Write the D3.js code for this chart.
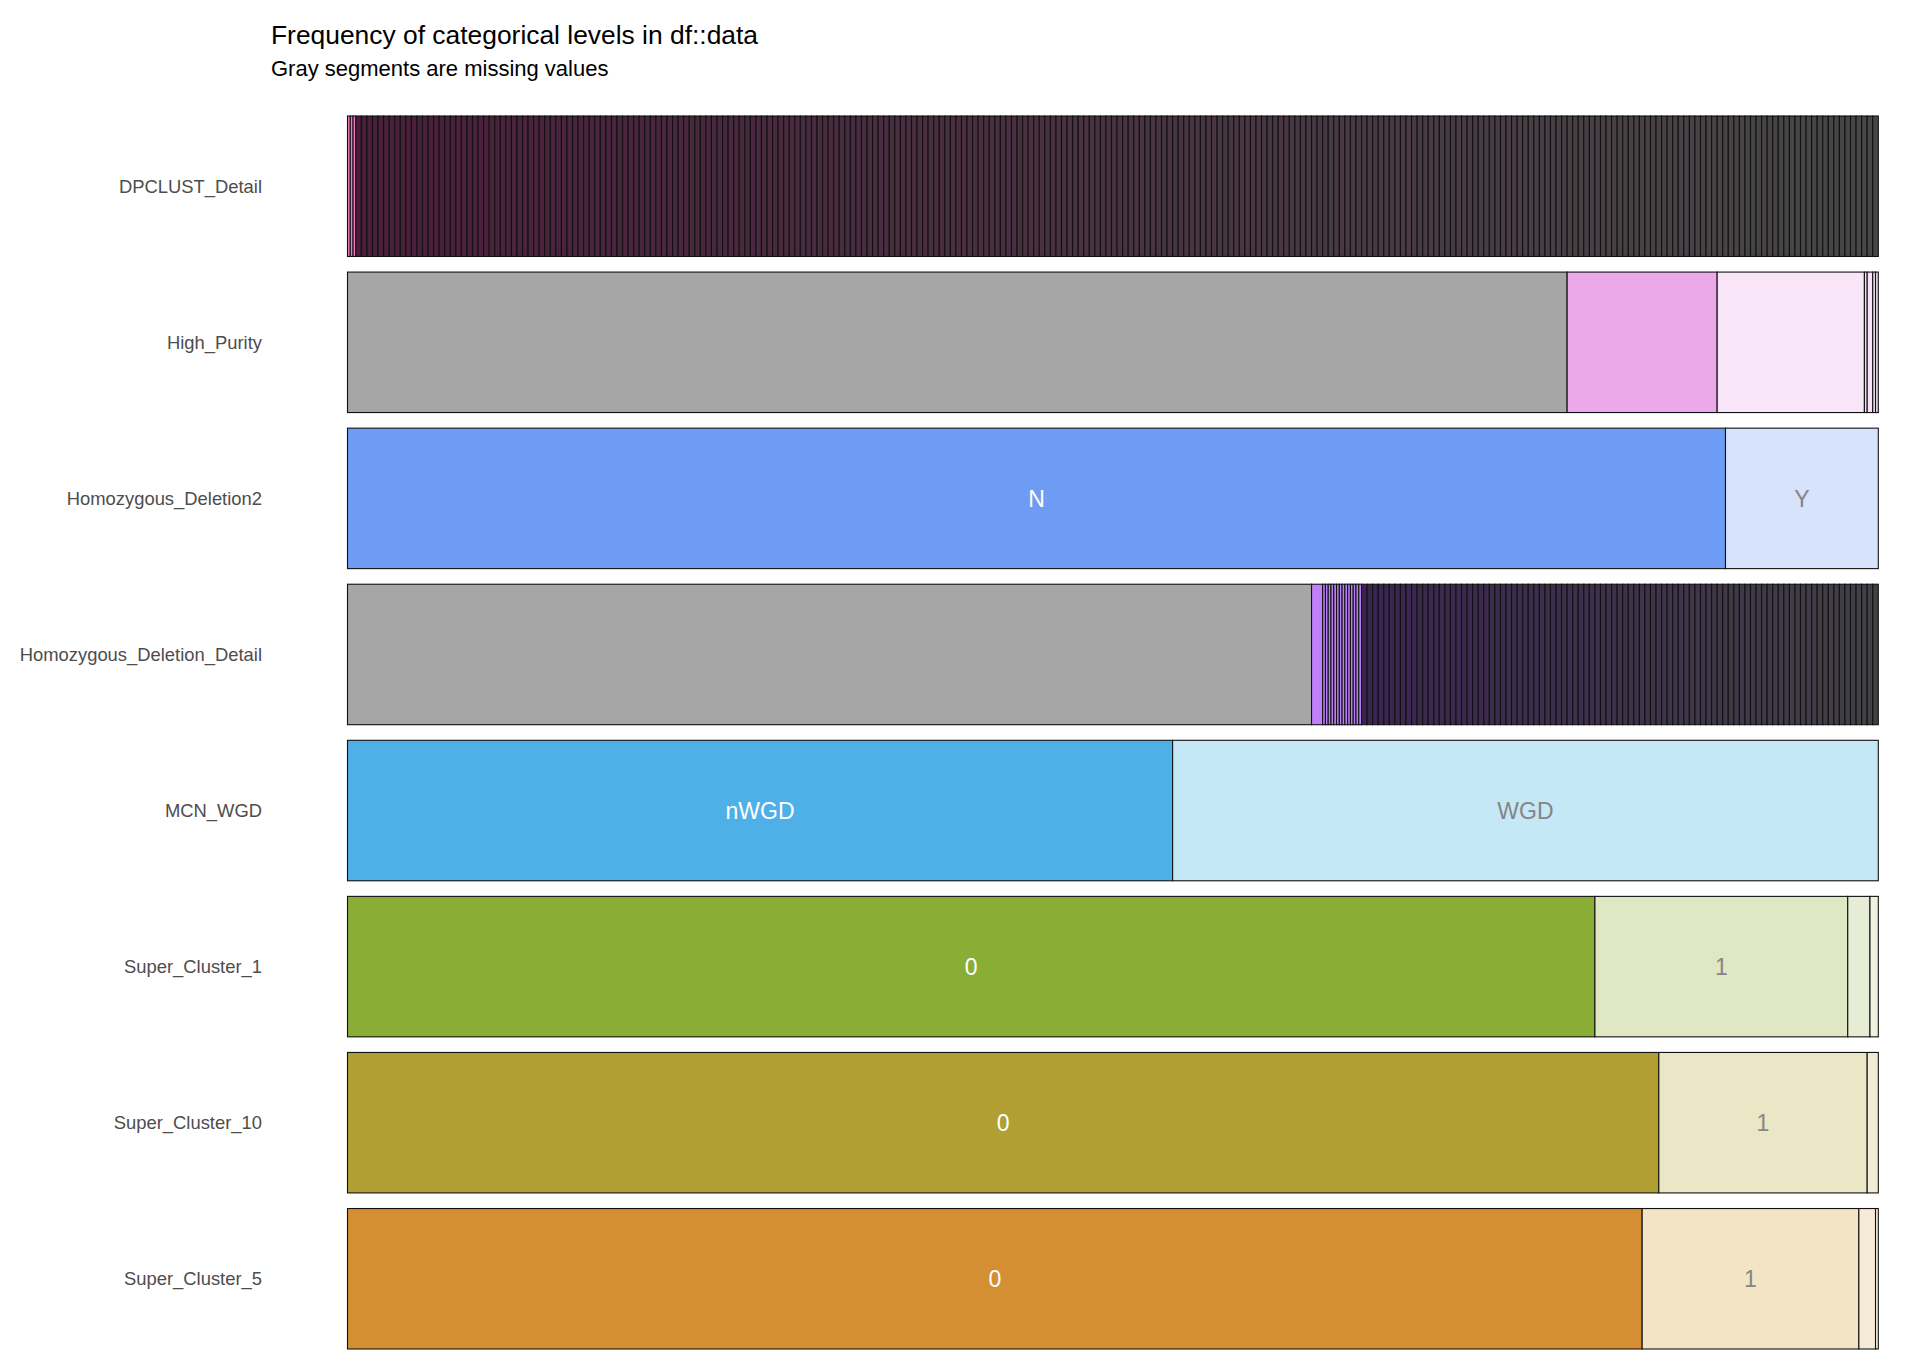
<!DOCTYPE html>
<html><head><meta charset="utf-8">
<script src="https://cdn.jsdelivr.net/npm/d3@7"></script>
<style>body{margin:0;background:#fff} text{font-family:"Liberation Sans",Arial,Helvetica,sans-serif}</style>
</head><body><svg id="chart" width="1914" height="1362"></svg>
<script>
// ---------- data ----------
const columns = ["DPCLUST_Detail","High_Purity","Homozygous_Deletion2","Homozygous_Deletion_Detail","MCN_WGD","Super_Cluster_1","Super_Cluster_10","Super_Cluster_5"];
const titleText = "Frequency of categorical levels in df::data";
const subtitleText = "Gray segments are missing values";

// counts of each level (first entry NA where the column has missing values)
const dpclustDetailCounts = [1,1,1,
2,2,2,2,2,2,2,2,2,2,2,2,2,2,2,2,2,2,2,2,
2,2,2,2,2,2,2,2,2,2,2,2,2,2,2,2,2,2,2,2,
2,2,2,2,2,2,2,2,2,2,2,2,2,2,2,2,2,2,2,2,
2,2,2,2,2,2,2,2,2,2,2,2,2,2,2,2,2,2,2,2,
2,2,2,2,2,2,2,2,2,2,2,2,2,2,2,2,2,2,2,2,
2,2,2,2,2,2,2,2,2,2,2,2,2,2,2,2,2,2,2,2,
2,2,2,2,2,2,2,2,2,2,2,2,2,2,2,2,2,2,2,2,
2,2,2,2,2,2,2,2,2,2,2,2,2,2,2,2,2,2,2,2,
2,2,2,2,2,2,2,2,2,2,2,2,2,2,2,2,2,2,2,2,
2,2,2,2,2,2,2,2,2,2,2,2,2,2,2,2,2,2,2,2,
2,2,2,2,2,2,2,2,2,2,2,2,2,2,2,2,2,2,2,2,
2,2,2,2,2,2,2,2,2,2,2,2,2,2,2,2,2,2,2,2,
2,2,2,2,2,2,2,2,2,2,2,2,2,2,2,2,2,2,2,2,
2,2,2,2,2,2,2,2,2,2,2,2,2,2];
const highPurityCounts = [439,54,53,1,2,1,1];
const homDel2Counts = [496,55];
const homDel2Labels = ["N","Y"];
const homDelDetailCounts = [347,4,
1,1,1,1,1,1,1,1,1,1,1,1,1,1,
2,2,2,2,2,2,2,2,2,2,2,2,2,2,2,2,2,2,2,2,
2,2,2,2,2,2,2,2,2,2,2,2,2,2,2,2,2,2,2,2,
2,2,2,2,2,2,2,2,2,2,2,2,2,2,2,2,2,2,2,2,
2,2,2,2,2,2,2,2,2,2,2,2,2,2,2,2,2,2,2,2,
2,2,2,2,2,2,2,2,2,2,2,2,2];
const mcnWgdCounts = [297,254];
const mcnWgdLabels = ["nWGD","WGD"];
const sc1Counts = [449,91,8,3];
const sc1Labels = ["0","1","",""];
const sc10Counts = [472,75,4];
const sc10Labels = ["0","1",""];
const sc5Counts = [466,78,6,1];
const sc5Labels = ["0","1","",""];

// ---------- styles ----------
const NA_GREY = "#a6a6a6";
function gradient(n, nLight, light, from, to) {
  return d3.range(n).map(i => i < nLight ? light : d3.interpolateRgb(from, to)((i - nLight) / Math.max(1, n - nLight - 1)));
}
const rowSpecs = [
  {counts: dpclustDetailCounts, labels: null,
   fills: gradient(dpclustDetailCounts.length, 3, "#ee7cbf", "#4a1f3c", "#474747")},
  {counts: highPurityCounts, labels: null,
   fills: [NA_GREY, "#eba9e9", "#f8e5f7", "#f3def3", "#f6e2f6", "#f2dcf2", "#eed6ee"]},
  {counts: homDel2Counts, labels: homDel2Labels, fills: ["#6e9cf5", "#d6e3fb"], textCols: ["#ffffff", "#858585"]},
  {counts: homDelDetailCounts, labels: null,
   fills: [NA_GREY, "#bf80fa"].concat(gradient(homDelDetailCounts.length - 2, 14, "#b880f4", "#3a2550", "#424046"))},
  {counts: mcnWgdCounts, labels: mcnWgdLabels, fills: ["#4fb0e8", "#c5e8f7"], textCols: ["#ffffff", "#858585"]},
  {counts: sc1Counts, labels: sc1Labels, fills: ["#89ad35", "#dfe8c2", "#e7edd4", "#eef2e1"], textCols: ["#ffffff", "#858585"]},
  {counts: sc10Counts, labels: sc10Labels, fills: ["#b29f33", "#ebe6c6", "#efebd5"], textCols: ["#ffffff", "#858585"]},
  {counts: sc5Counts, labels: sc5Labels, fills: ["#d38f31", "#f3e4c6", "#f6ebd8", "#f8f0e4"], textCols: ["#ffffff", "#858585"]}
];

// ---------- drawing ----------
const svg = d3.select("#chart");
const x = d3.scaleLinear().domain([0, 1]).range([347.5, 1878.3]);
const y = d3.scaleBand().domain(columns).range([116, 1349]).paddingInner(0.1).paddingOuter(0);

svg.append("text").attr("x", 271).attr("y", 44).attr("font-size", 26.4).attr("fill", "#000").text(titleText);
svg.append("text").attr("x", 271).attr("y", 75.5).attr("font-size", 22).attr("fill", "#000").text(subtitleText);

const yAxis = svg.append("g").attr("transform", "translate(262,0)")
  .call(d3.axisLeft(y).tickSize(0).tickPadding(0));
yAxis.select(".domain").remove();
yAxis.selectAll("text").attr("font-size", 18.4).attr("fill", "#4d4d4d")
  .attr("font-family", '"Liberation Sans",Arial,sans-serif').attr("dy", "0.35em");

columns.forEach((col, r) => {
  const spec = rowSpecs[r];
  const total = d3.sum(spec.counts);
  let cum = 0;
  const segs = spec.counts.map((c, i) => {
    const s = {x0: cum / total, x1: (cum + c) / total, i};
    cum += c;
    return s;
  });
  const g = svg.append("g");
  g.selectAll("rect").data(segs).join("rect")
    .attr("x", d => x(d.x0)).attr("width", d => x(d.x1) - x(d.x0))
    .attr("y", y(col)).attr("height", y.bandwidth())
    .attr("fill", d => spec.fills[d.i])
    .attr("stroke", "#111").attr("stroke-width", 1.1);
  if (spec.labels) {
    g.selectAll("text").data(segs.filter(d => spec.labels[d.i])).join("text")
      .attr("x", d => x((d.x0 + d.x1) / 2))
      .attr("y", y(col) + y.bandwidth() / 2)
      .attr("dy", "0.36em").attr("text-anchor", "middle")
      .attr("font-size", 23)
      .attr("fill", d => spec.textCols[d.i] || "#858585")
      .text(d => spec.labels[d.i]);
  }
});
</script>
</body></html>
